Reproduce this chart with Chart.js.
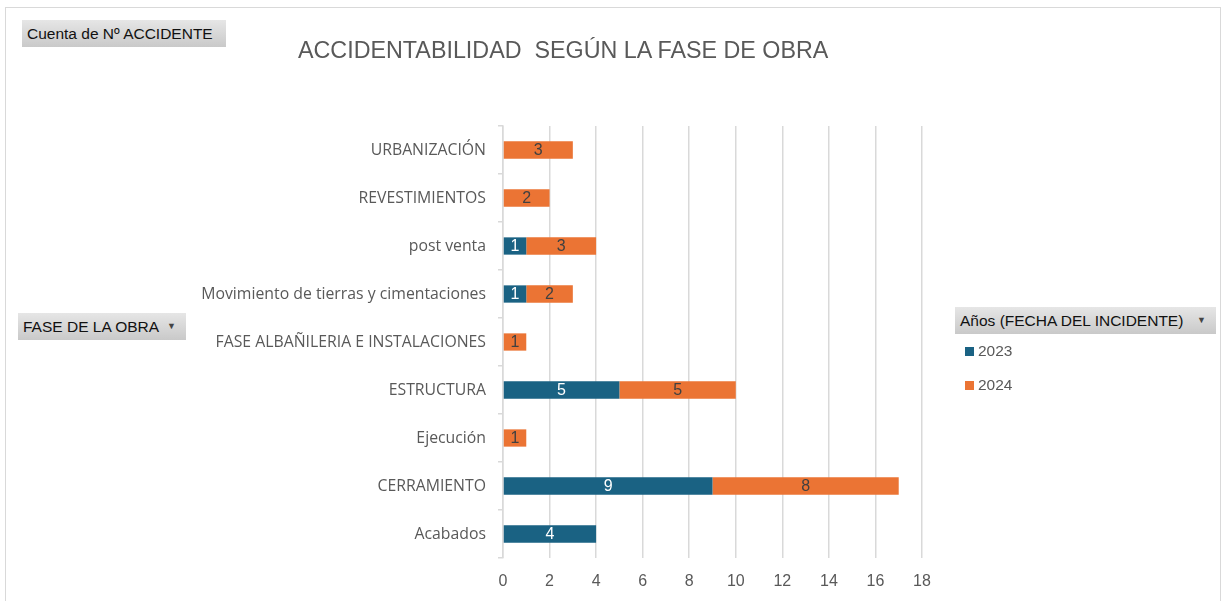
<!DOCTYPE html>
<html>
<head>
<meta charset="utf-8">
<script src="https://cdn.jsdelivr.net/npm/chart.js@4.4.0/dist/chart.umd.min.js"></script>
<style>
  body { margin: 0; background: #fff; font-family: "Liberation Sans", Arial, sans-serif; }
  #wrap { position: relative; width: 1225px; height: 601px; overflow: hidden; }
  #marco { position: absolute; left: 5px; top: 7px; width: 1216px; height: 600px; border: 1.5px solid #d9d9d9; box-sizing: border-box; }
  canvas { position: absolute; left: 0; top: 0; }
  .boton { position: absolute; height: 27px; line-height: 27px; font-size: 15.5px; color: #111;
           background: linear-gradient(#e6e6e6, #c9c9c9); padding-left: 5px; box-sizing: border-box; white-space: nowrap; }
  .flecha { position: absolute; right: 10px; top: 0; font-size: 9px; color: #444; }
  #titulo { position: absolute; left: 298px; top: 37px; font-size: 23.3px; color: #595959; white-space: nowrap; }
  .leyenda { position: absolute; left: 965px; font-size: 15.5px; color: #595959; }
  .leyenda span { display: inline-block; width: 9px; height: 9px; margin-right: 4px; }
</style>
</head>
<body>
<div id="wrap">
  <div id="marco"></div>
  <canvas id="grafica" width="1225" height="601"></canvas>
  <div class="boton" style="left:22px;top:20px;width:204px;">Cuenta de Nº ACCIDENTE</div>
  <div class="boton" style="left:18px;top:313px;width:168px;">FASE DE LA OBRA<span class="flecha">▼</span></div>
  <div class="boton" style="left:955px;top:307px;width:261px;">Años (FECHA DEL INCIDENTE)<span class="flecha">▼</span></div>
  <div id="titulo">ACCIDENTABILIDAD&nbsp; SEGÚN LA FASE DE OBRA</div>
  <div id="leyenda"></div>
</div>
<script>
// datos
const fases = [
    'URBANIZACIÓN',
    'REVESTIMIENTOS',
    'post venta',
    'Movimiento de tierras y cimentaciones',
    'FASE ALBAÑILERIA E INSTALACIONES',
    'ESTRUCTURA',
    'Ejecución',
    'CERRAMIENTO',
    'Acabados'
];
const años = ['2023', '2024'];
const valores2023 = [null, null, 1, 1, null, 5, null, 9, 4];
const valores2024 = [3, 2, 3, 2, 1, 5, 1, 8, null];
const colores = ['#1a6283', '#eb7434'];
const coloresTexto = ['#ffffff', '#404040'];
const ticksX = [0, 2, 4, 6, 8, 10, 12, 14, 16, 18];

// leyenda en html
let leyenda = document.getElementById('leyenda');
años.forEach((a, i) => {
    let d = document.createElement('div');
    d.className = 'leyenda';
    d.style.top = (342 + i * 34) + 'px';
    d.innerHTML = '<span style="background:' + colores[i] + '"></span>' + a;
    leyenda.appendChild(d);
});

// etiquetas dentro de las barras
const etiquetas = {
    id: 'etiquetas',
    afterDatasetsDraw(chart) {
        const ctx = chart.ctx;
        ctx.save();
        ctx.font = '16px "Liberation Sans", Arial, sans-serif';
        ctx.textAlign = 'center';
        ctx.textBaseline = 'middle';
        chart.data.datasets.forEach((ds, i) => {
            const meta = chart.getDatasetMeta(i);
            ctx.fillStyle = coloresTexto[i];
            meta.data.forEach((bar, j) => {
                if (ds.data[j] == null) return;
                ctx.fillText(ds.data[j], (bar.x + bar.base) / 2, bar.y + 1);
            });
        });
        ctx.restore();
    }
};

new Chart('grafica', {
    type: 'bar',
    data: {
        labels: fases,
        datasets: [
            { label: años[0], data: valores2023, backgroundColor: colores[0] },
            { label: años[1], data: valores2024, backgroundColor: colores[1] }
        ]
    },
    options: {
        indexAxis: 'y',
        responsive: false,
        animation: false,
        barPercentage: 0.36,
        categoryPercentage: 1,
        layout: { padding: { left: 0, right: 303, top: 126, bottom: 0 } },
        plugins: {
            legend: { display: false },
            tooltip: { enabled: false }
        },
        scales: {
            x: {
                stacked: true,
                min: 0,
                max: 18,
                afterBuildTicks: (s) => { s.ticks = ticksX.map(v => ({ value: v })); },
                afterFit: (s) => { s.height = 43; },
                border: { display: false },
                grid: { color: '#d9d9d9', lineWidth: 1.5, drawTicks: false },
                ticks: { color: '#595959', padding: 14, font: { size: 16, family: '"Liberation Sans", Arial, sans-serif' } }
            },
            y: {
                stacked: true,
                afterFit: (s) => { s.width = 503; },
                border: { display: true, color: '#d9d9d9', width: 1.5 },
                grid: { drawOnChartArea: false, tickLength: 5, color: '#d9d9d9', lineWidth: 1.5 },
                ticks: { color: '#595959', padding: 12, font: { size: 15.8, family: '"Open Sans", sans-serif' } }
            }
        }
    },
    plugins: [etiquetas]
});
</script>
</body>
</html>
